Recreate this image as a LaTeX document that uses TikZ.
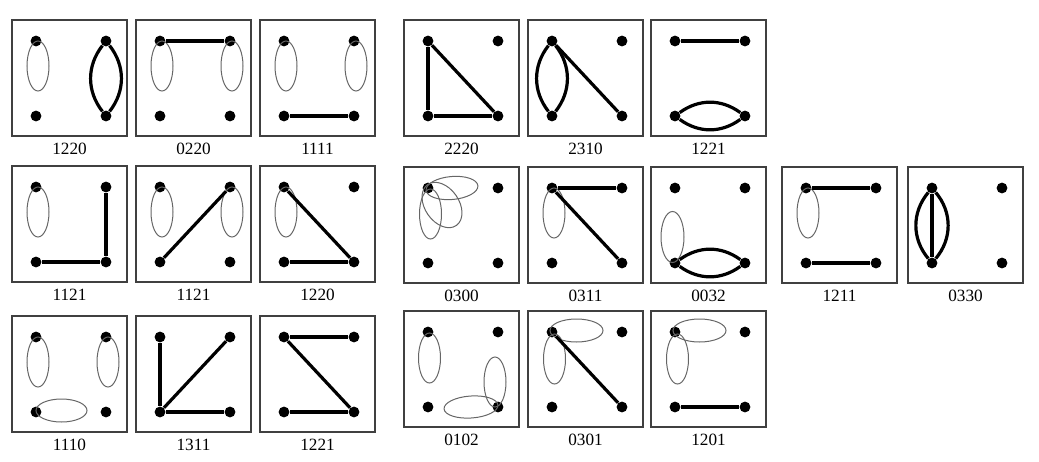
\documentclass[tikz,border=0pt]{standalone}
\usepackage{fontspec}
\setmainfont{Liberation Serif}
\usepackage{tikz}
\usetikzlibrary{positioning}

% one panel: frame, four vertices (1 2 / 3 4) and its code
\newcommand{\graphbox}[4]{%
  \draw[boxline] (#2,#3) rectangle ++(115,116);
  \node[vertex] (#1-1) at (#2+24,#3+21) {};
  \node[vertex] (#1-2) [right=of #1-1] {};
  \node[vertex] (#1-3) [below=of #1-1] {};
  \node[vertex] (#1-4) [right=of #1-3] {};
  \node[caption] (#1-n) at (#2+57.5,#3+129) {#4};
}

\begin{document}
\begin{tikzpicture}[x=0.5pt, y=-0.5pt, node distance=37.5pt and 35pt, on grid,
    vertex/.style={circle, fill=black, inner sep=0pt, minimum size=5.4pt},
    boxline/.style={draw=black!75, line width=0.65pt},
    bond/.style={draw, line width=1.6pt},
    selfloop/.style={draw=black!60, line width=0.5pt},
    caption/.style={font=\fontsize{8.6}{10}\selectfont, inner sep=0pt}]
    \useasboundingbox (0,0) rectangle (1039,461);

    % first row
    \graphbox{g1}{12}{20}{1220}
    \graphbox{g2}{136}{20}{0220}
    \graphbox{g3}{260}{20}{1111}
    \graphbox{g4}{404}{20}{2220}
    \graphbox{g5}{528}{20}{2310}
    \graphbox{g6}{651}{20}{1221}

    \draw[selfloop] (g1-1) ++(2,25) ellipse [x radius=11, y radius=25];
    \path[bond] (g1-2) edge[bend left=38] (g1-4) edge[bend right=38] (g1-4);

    \draw[selfloop] (g2-1) ++(2,25) ellipse [x radius=11, y radius=25];
    \draw[selfloop] (g2-2) ++(2,25) ellipse [x radius=11, y radius=25];
    \path[bond] (g2-1) edge (g2-2);

    \draw[selfloop] (g3-1) ++(2,25) ellipse [x radius=11, y radius=25];
    \draw[selfloop] (g3-2) ++(2,25) ellipse [x radius=11, y radius=25];
    \path[bond] (g3-3) edge (g3-4);

    \path[bond] (g4-1) edge (g4-3) (g4-3) edge (g4-4) (g4-1) edge (g4-4);

    \path[bond] (g5-1) edge[bend left=38] (g5-3) edge[bend right=38] (g5-3)
        (g5-1) edge (g5-4);

    \path[bond] (g6-1) edge (g6-2)
        (g6-3) edge[bend left=36] (g6-4) edge[bend right=36] (g6-4);

    % second row
    \graphbox{g7}{12}{166}{1121}
    \graphbox{g8}{136}{166}{1121}
    \graphbox{g9}{260}{166}{1220}
    \graphbox{g10}{404}{167}{0300}
    \graphbox{g11}{528}{167}{0311}
    \graphbox{g12}{651}{167}{0032}
    \graphbox{g13}{782}{167}{1211}
    \graphbox{g14}{908}{167}{0330}

    \draw[selfloop] (g7-1) ++(2,25) ellipse [x radius=11, y radius=25];
    \path[bond] (g7-3) edge (g7-4) (g7-2) edge (g7-4);

    \draw[selfloop] (g8-1) ++(2,25) ellipse [x radius=11, y radius=25];
    \draw[selfloop] (g8-2) ++(2,25) ellipse [x radius=11, y radius=25];
    \path[bond] (g8-3) edge (g8-2);

    \draw[selfloop] (g9-1) ++(2,25) ellipse [x radius=11, y radius=25];
    \path[bond] (g9-1) edge (g9-4) (g9-3) edge (g9-4);

    \draw[selfloop] (g10-1) ++(2.5,26) ellipse [x radius=11, y radius=25];
    \draw[selfloop] (g10-1) ++(14,17) ellipse [x radius=25, y radius=17, rotate=-55];
    \draw[selfloop] (g10-1) ++(24,0) ellipse [x radius=26, y radius=11.5, rotate=5];

    \draw[selfloop] (g11-1) ++(2,25) ellipse [x radius=11, y radius=25];
    \path[bond] (g11-1) edge (g11-2) (g11-1) edge (g11-4);

    \draw[selfloop] (g12-3) ++(-2.5,-26) ellipse [x radius=11.5, y radius=25.5];
    \path[bond] (g12-3) edge[bend left=36] (g12-4) edge[bend right=36] (g12-4);

    \draw[selfloop] (g13-1) ++(2,25) ellipse [x radius=11, y radius=25];
    \path[bond] (g13-1) edge (g13-2) (g13-3) edge (g13-4);

    \path[bond] (g14-1) edge (g14-3) edge[bend left=40] (g14-3) edge[bend right=40] (g14-3);

    % third row
    \graphbox{g15}{12}{316}{1110}
    \graphbox{g16}{136}{316}{1311}
    \graphbox{g17}{260}{316}{1221}
    \graphbox{g18}{404}{311}{0102}
    \graphbox{g19}{528}{311}{0301}
    \graphbox{g20}{651}{311}{1201}

    \draw[selfloop] (g15-1) ++(2,25) ellipse [x radius=11, y radius=25];
    \draw[selfloop] (g15-2) ++(2,25) ellipse [x radius=11, y radius=25];
    \draw[selfloop] (g15-3) ++(25.5,-1.5) ellipse [x radius=25.5, y radius=11.5];

    \path[bond] (g16-1) edge (g16-3) (g16-3) edge (g16-2) (g16-3) edge (g16-4);

    \path[bond] (g17-1) edge (g17-2) (g17-1) edge (g17-4) (g17-3) edge (g17-4);

    \draw[selfloop] (g18-1) ++(1.5,26) ellipse [x radius=11, y radius=25];
    \draw[selfloop] (g18-4) ++(-3,-25) ellipse [x radius=11, y radius=25];
    \draw[selfloop] (g18-4) ++(-27,0) ellipse [x radius=27, y radius=11, rotate=4];

    \draw[selfloop] (g19-1) ++(24.5,-1.5) ellipse [x radius=26.5, y radius=11.5];
    \draw[selfloop] (g19-1) ++(2.5,27) ellipse [x radius=11, y radius=25];
    \path[bond] (g19-1) edge (g19-4);

    \draw[selfloop] (g20-1) ++(24.5,-1.5) ellipse [x radius=26.5, y radius=11.5];
    \draw[selfloop] (g20-1) ++(2.5,27) ellipse [x radius=11, y radius=25];
    \path[bond] (g20-3) edge (g20-4);
\end{tikzpicture}
\end{document}
